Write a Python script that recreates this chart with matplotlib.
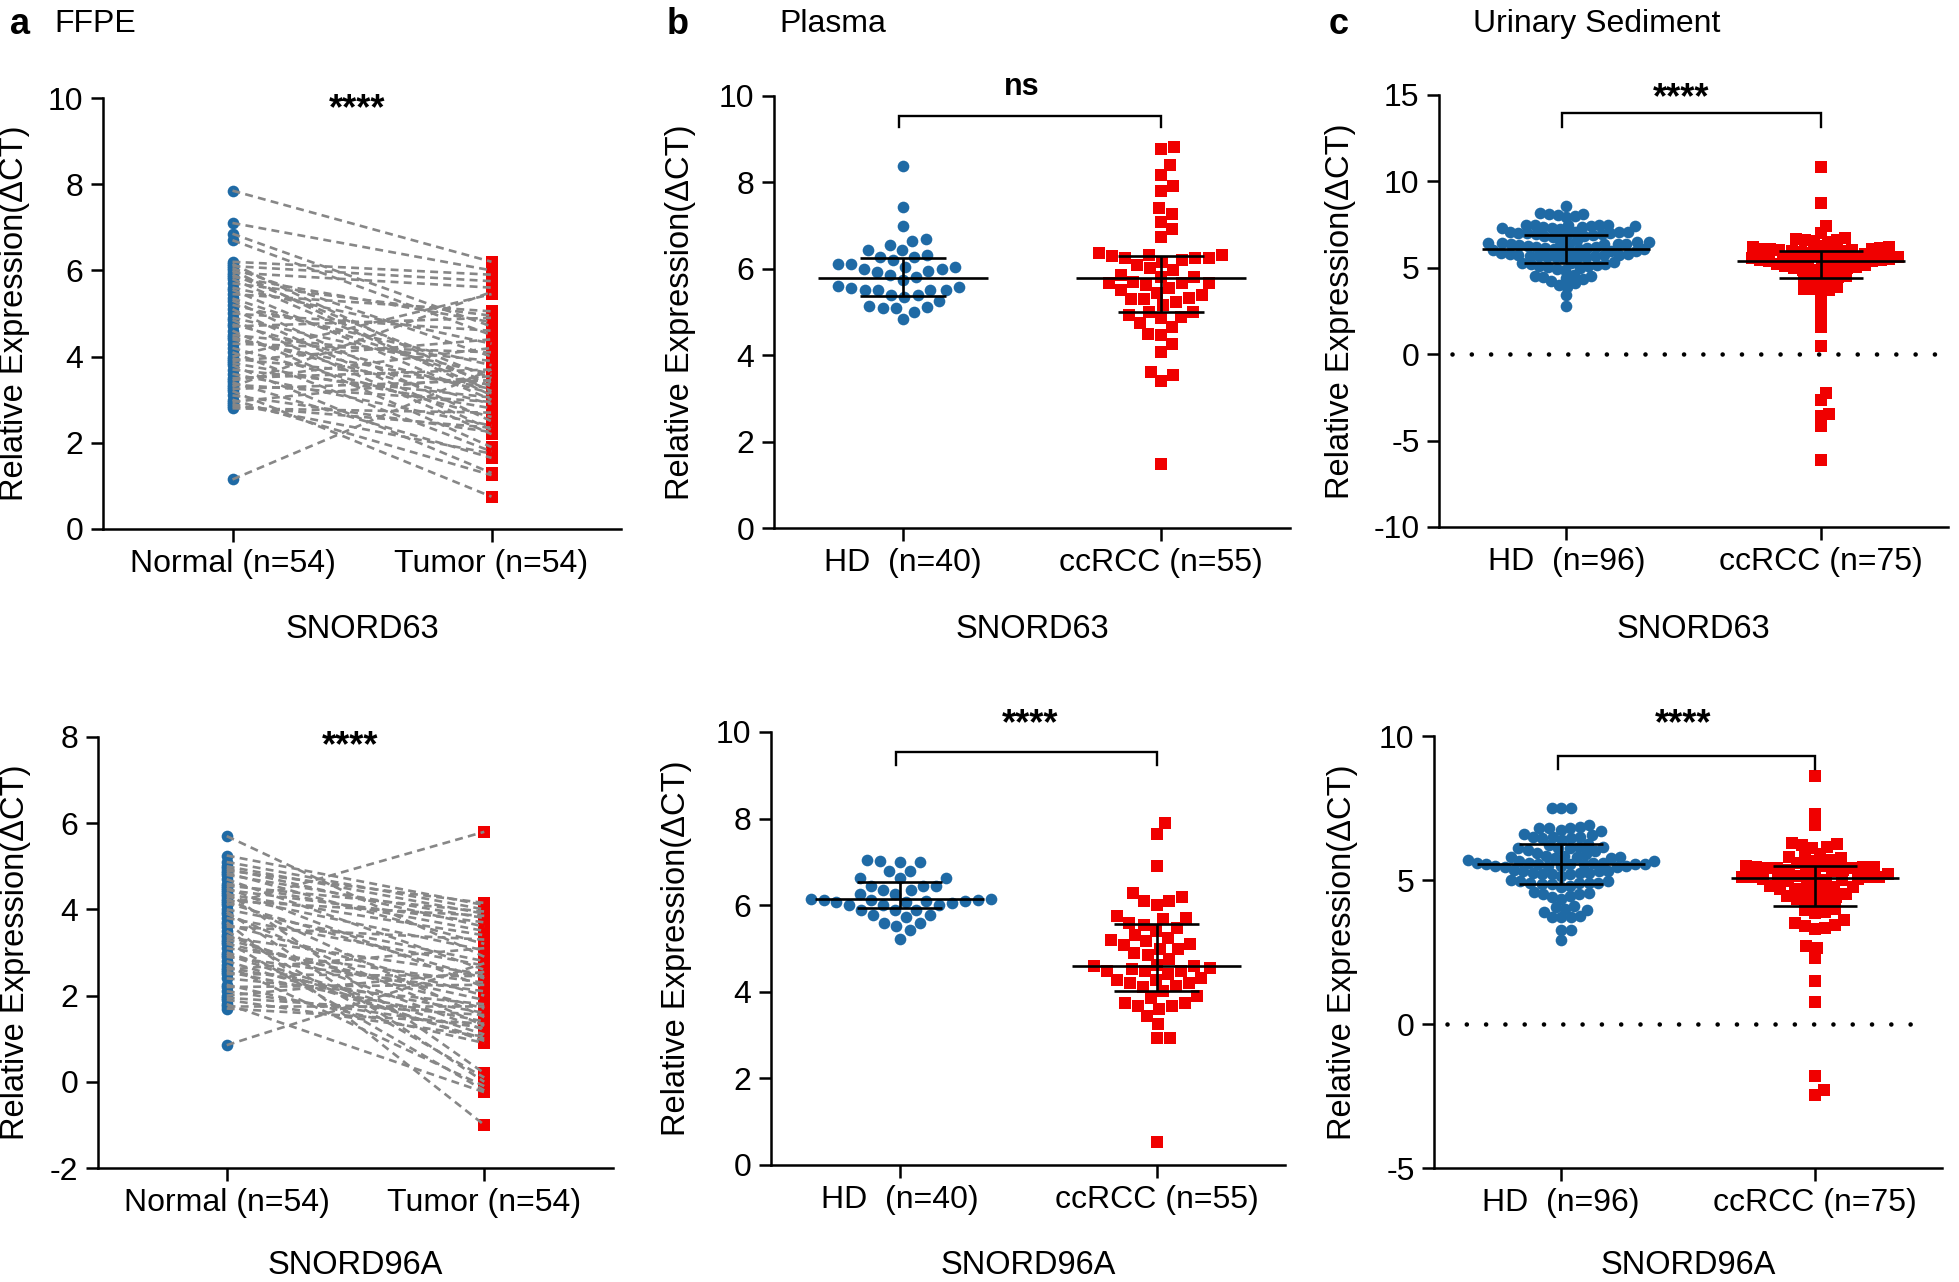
import numpy as np
import matplotlib
matplotlib.use("Agg")
import matplotlib.pyplot as plt

plt.rcParams['font.family'] = ['Liberation Sans', 'DejaVu Sans']
plt.rcParams['axes.unicode_minus'] = False

BLUE = '#1f6aa5'
RED = '#f00000'
GRAY = '#878787'

# ---- a: FFPE, paired normal / tumor ----
ffpe_labels = ['Normal (n=54)', 'Tumor (n=54)']
n63 = [7.85, 7.1, 6.85, 6.7, 6.2, 6.15, 6.1, 6.05, 6.0, 5.95,
       5.9, 5.85, 5.8, 5.7, 5.6, 5.55, 5.45, 5.35, 5.3, 5.2,
       5.1, 5.0, 4.9, 4.85, 4.75, 4.7, 4.6, 4.5, 4.45, 4.4,
       4.3, 4.2, 4.1, 4.0, 3.95, 3.9, 3.85, 3.8, 3.7, 3.6,
       3.5, 3.45, 3.4, 3.35, 3.3, 3.25, 3.2, 3.1, 3.0, 2.95,
       2.9, 2.85, 2.8, 1.15]
t63 = [6.2, 6.0, 4.7, 4.5, 5.9, 3.3, 5.75, 4.0, 3.1, 5.6,
       3.5, 4.8, 3.2, 4.95, 4.3, 3.0, 5.05, 3.4, 2.5, 3.8,
       2.3, 4.6, 3.6, 2.2, 3.15, 4.9, 1.9, 3.9, 2.9, 3.25,
       4.1, 2.6, 1.8, 5.45, 3.35, 4.4, 2.8, 1.3, 3.05, 2.4,
       3.7, 4.2, 1.65, 2.95, 5.5, 3.45, 0.75, 2.25, 1.25, 3.55,
       1.75, 2.35, 2.7, 3.7]
n96 = [5.7, 5.25, 5.1, 5.0, 4.95, 4.9, 4.85, 4.8, 4.7, 4.6,
       4.55, 4.5, 4.45, 4.4, 4.35, 4.3, 4.25, 4.2, 4.15, 4.1,
       4.0, 3.95, 3.9, 3.8, 3.7, 3.65, 3.6, 3.5, 3.4, 3.35,
       3.3, 3.25, 3.2, 3.1, 3.0, 2.95, 2.9, 2.8, 2.7, 2.65,
       2.6, 2.55, 2.5, 2.4, 2.25, 2.2, 2.1, 2.0, 1.95, 1.9,
       1.8, 1.75, 1.7, 0.85]
t96 = [2.9, 4.1, 4.0, 3.9, 3.6, 4.15, 3.2, 3.8, 2.6, 3.5,
       3.95, 2.2, 3.7, 0.2, 3.4, 3.05, 1.5, 3.85, 2.4, 5.8,
       2.8, 0.0, 1.3, 2.7, -1.0, 2.0, 3.3, 0.1, 1.2, 2.5,
       1.7, -0.2, 1.9, 2.3, 1.1, 0.95, 2.1, 1.0, -0.1, 1.6,
       3.1, 1.4, 2.45, 1.8, 0.9, 2.25, 1.25, 2.55, 1.55, 1.05,
       -0.24, 1.75, 1.35, 2.75]

# ---- b: plasma ----
plasma_labels = ['HD  (n=40)', 'ccRCC (n=55)']
pl63_hd = [8.38, 7.44, 7.0, 6.68, 6.65, 6.55, 6.44, 6.44, 6.33, 6.28,
           6.28, 6.2, 6.1, 6.12, 6.05, 6.05, 6.0, 6.0, 5.93, 5.95,
           5.82, 5.85, 5.74, 5.6, 5.55, 5.58, 5.5, 5.52, 5.5, 5.5,
           5.4, 5.35, 5.4, 5.25, 5.12, 5.1, 5.1, 5.15, 5.0, 4.83]
pl63_cc = [8.81, 8.77, 8.4, 8.17, 7.92, 7.79, 7.4, 7.28, 7.09, 6.91,
           6.73, 6.24, 6.24, 6.37, 6.32, 6.29, 6.16, 6.2, 6.24, 6.32,
           6.09, 6.01, 5.97, 5.86, 5.82, 5.82, 5.66, 5.66, 5.66, 5.63,
           5.55, 5.51, 5.44, 5.32, 5.3, 5.24, 5.3, 5.16, 5.01, 5.01,
           4.93, 4.89, 4.85, 4.66, 4.47, 4.49, 4.27, 4.08, 3.62, 3.54,
           3.41, 1.48, 5.7, 5.4, 4.75]
pl96_hd = [7.02, 7.0, 7.05, 7.0, 6.8, 6.8, 6.63, 6.63, 6.63, 6.45,
           6.45, 6.45, 6.36, 6.36, 6.25, 6.25, 6.15, 6.12, 6.1, 6.08,
           6.05, 6.14, 6.11, 6.07, 6.13, 6.09, 6.0, 6.0, 6.0, 5.9,
           5.9, 5.9, 5.78, 5.78, 5.72, 5.6, 5.6, 5.52, 5.42, 5.23]
pl96_cc = [7.9, 7.65, 6.9, 6.28, 6.2, 6.09, 6.09, 6.0, 5.75, 5.67,
           5.6, 5.48, 5.32, 5.25, 5.2, 5.17, 5.09, 4.99, 4.86, 4.75,
           4.59, 4.59, 4.55, 4.52, 4.48, 4.48, 4.48, 4.63, 4.32, 4.28,
           4.28, 4.2, 4.2, 4.13, 4.02, 3.86, 3.75, 3.75, 3.67, 3.67,
           3.6, 3.44, 3.25, 2.94, 2.94, 0.53, 5.7, 5.55, 5.4, 5.1,
           4.9, 4.4, 4.1, 3.9, 5.0]

# ---- c: urinary sediment ----
urine_labels = ['HD  (n=96)', 'ccRCC (n=75)']
us63_hd = [8.6,
           8.15, 8.1, 8.05, 8.0, 8.1, 7.95,
           7.5, 7.45, 7.4, 7.35, 7.45, 7.5, 7.3, 7.4, 7.35, 7.25, 7.45, 7.3,
           7.1, 7.05, 7.0, 6.95, 6.9, 7.0, 7.05, 6.85, 6.95, 7.1, 6.9, 6.8, 7.0, 6.85,
           6.5, 6.45, 6.4, 6.35, 6.4, 6.55, 6.3, 6.45, 6.6, 6.35, 6.5, 6.4,
           6.2, 6.15, 6.1, 6.05, 6.0, 6.15, 6.1, 6.2, 6.05, 6.0, 6.1, 6.25,
           5.8, 5.75, 5.7, 5.65, 5.6, 5.7, 5.75, 5.85, 5.65, 5.6, 5.7, 5.8, 5.55, 5.75, 5.9,
           5.3, 5.2, 5.15, 5.1, 5.05, 5.0, 4.95, 5.2, 5.1, 5.25, 4.9, 5.35,
           4.6, 4.5, 4.4, 4.55, 4.35, 4.45, 4.25,
           4.1, 4.0, 3.9,
           3.4, 2.8]
us63_cc = [10.85, 8.75, 7.4, 7.0,
           6.7, 6.6, 6.55, 6.65, 6.5, 6.6,
           6.2, 6.1, 6.15, 6.05, 6.0, 6.1, 6.2, 6.25, 6.05, 6.1,
           5.95, 5.9, 5.85, 5.8, 5.75, 5.9, 5.8,
           5.6, 5.55, 5.5, 5.45, 5.4, 5.35, 5.5, 5.45, 5.6, 5.4, 5.35, 5.5,
           5.55, 5.3, 5.45, 5.4,
           5.2, 5.15,
           5.1, 5.0, 4.95, 4.9, 5.05, 4.85, 5.0, 4.9, 4.8,
           4.5, 4.4, 4.35, 4.45, 4.3, 4.25,
           3.9, 3.8, 3.7, 3.6, 3.75,
           2.9, 2.2, 1.6, 0.45,
           -2.25, -2.65, -3.45, -3.6, -4.15, -6.1]
us96_hd = [7.5, 7.5, 7.5,
           6.85, 6.8, 6.8, 6.75, 6.8, 6.9, 6.7,
           6.55, 6.5, 6.45, 6.5, 6.6, 6.4, 6.5, 6.45,
           6.15, 6.1, 6.05, 6.1, 6.2, 6.0, 6.1, 6.15, 6.25,
           5.85, 5.8, 5.75, 5.8, 5.9, 5.7, 5.8, 5.85, 5.95, 5.75,
           5.6, 5.55, 5.5, 5.55, 5.6, 5.5, 5.55, 5.65, 5.45, 5.55, 5.6, 5.5,
           5.55, 5.45, 5.6, 5.5, 5.55, 5.65,
           5.3, 5.25, 5.2, 5.3, 5.25, 5.15, 5.3, 5.2, 5.35, 5.25, 5.2,
           4.95, 4.9, 4.85, 4.9, 5.0, 4.8, 4.9, 4.95, 4.85, 4.9, 4.75,
           4.55, 4.5, 4.45, 4.6, 4.4, 4.5, 4.35,
           4.1, 4.0, 3.95, 4.05, 3.9,
           3.7, 3.7, 3.7, 3.75,
           3.25, 3.25, 2.9]
us96_cc = [8.6, 7.3, 6.9,
           6.3, 6.2, 6.15, 6.25, 6.1,
           5.9, 5.8, 5.75, 5.85, 5.7, 5.6, 5.65,
           5.45, 5.4, 5.35, 5.5, 5.4, 5.45, 5.35, 5.5, 5.4, 5.3, 5.45, 5.4,
           5.1, 5.05, 5.0, 5.1, 5.05, 5.0, 5.15, 5.05, 5.1, 5.0, 4.95, 5.1,
           5.2, 5.25, 4.9,
           4.75, 4.7, 4.65, 4.8, 4.7, 4.6, 4.75, 4.5, 4.55, 4.45,
           4.35, 4.3, 4.25, 4.4, 4.2,
           3.95, 3.9, 3.85, 4.0, 3.6,
           3.45, 3.4, 3.35, 3.5, 3.3,
           2.7, 2.65, 2.3, 1.5, 0.75,
           -1.8, -2.3, -2.45]

# summary lines: centre, lower, upper
pl63_stats = [(5.79, 5.36, 6.24), (5.79, 5.0, 6.3)]
pl96_stats = [(6.14, 5.93, 6.53), (4.6, 4.02, 5.56)]
us63_stats = [(6.1, 5.3, 6.9), (5.4, 4.4, 5.95)]
us96_stats = [(5.56, 4.86, 6.24), (5.08, 4.1, 5.5)]

W, H = 1959, 1282
fig = plt.figure(figsize=(W / 100, H / 100), dpi=100)


def make_ax(box, ylim, yticks, ticklabels, xlabel, ylab_x, xlab_y):
    x0, x1, yt, yb = box
    ax = fig.add_axes([x0 / W, 1 - yb / H, (x1 - x0) / W, (yb - yt) / H])
    ax.set_xlim(-0.5, 1.5)
    ax.set_ylim(*ylim)
    ax.set_yticks(yticks)
    ax.set_xticks([0, 1])
    ax.set_xticklabels(ticklabels)
    for s in ['top', 'right']:
        ax.spines[s].set_visible(False)
    for s in ['left', 'bottom']:
        ax.spines[s].set_linewidth(1.8)
    ax.tick_params(axis='both', width=1.8, labelsize=23)
    ax.tick_params(axis='y', length=9, pad=5)
    ax.tick_params(axis='x', length=9.5, pad=5)
    ax.set_ylabel('Relative Expression(ΔCT)', fontsize=23.5)
    ax.yaxis.label.set_va('center')
    ax.yaxis.set_label_coords((ylab_x - x0) / (x1 - x0), 0.5)
    ax.set_xlabel(xlabel, fontsize=23.5)
    ax.xaxis.label.set_va('center')
    ax.xaxis.set_label_coords(0.5, -(xlab_y - yb) / (yb - yt))
    ax.patch.set_alpha(0)
    return ax


def swarm(vals, box, ylim, d):
    x0, x1, yt, yb = box
    xpx = (x1 - x0) / 2.0
    ypx = (yb - yt) / (ylim[1] - ylim[0])
    vals = np.asarray(vals, float)
    ys = vals * ypx
    xs = np.zeros(len(vals))
    done = []
    for i in np.argsort(vals):
        cands = [0.0]
        for j in done:
            dy = ys[i] - ys[j]
            if abs(dy) < d:
                dx = np.sqrt(d * d - dy * dy)
                cands += [xs[j] + dx, xs[j] - dx]
        for c in sorted(cands, key=abs):
            if all((c - xs[j]) ** 2 + (ys[i] - ys[j]) ** 2 >= d * d - 1e-6 for j in done):
                xs[i] = c
                break
        done.append(i)
    return xs / xpx


def stats_lines(ax, x, st):
    c, lo, hi = st
    kw = dict(color='black', lw=1.9, zorder=5, solid_capstyle='butt')
    ax.plot([x - 0.33, x + 0.33], [c, c], **kw)
    ax.plot([x - 0.165, x + 0.165], [lo, lo], **kw)
    ax.plot([x - 0.165, x + 0.165], [hi, hi], **kw)
    ax.plot([x, x], [lo, hi], **kw)


def bracket(ax, y, ydrop, xl, xr):
    ax.plot([xl, xl, xr, xr], [ydrop, y, y, ydrop], color='black', lw=1.7,
            clip_on=False, solid_joinstyle='miter')


def zero_dots(ax):
    ax.plot([-0.45, 1.45], [0, 0], color='black', lw=3.3,
            linestyle=(0, (0.01, 4.2)), dash_capstyle='round', zorder=1)


def paired(ax, normal, tumor):
    ax.plot([0] * len(normal), normal, 'o', color=BLUE, ms=8.4, mew=0, zorder=2)
    ax.plot([1] * len(tumor), tumor, 's', color=RED, ms=8.0, mew=0, zorder=2)
    ax.plot(np.array([[0] * len(normal), [1] * len(tumor)]),
            np.array([normal, tumor]), color=GRAY, lw=1.9,
            linestyle=(0, (3.0, 2.0)), zorder=3)


def dots(ax, box, ylim, hd, cc, st, d_hd, d_cc):
    xh = swarm(hd, box, ylim, d_hd)
    xc = swarm(cc, box, ylim, d_cc)
    ax.plot(xh, hd, 'o', color=BLUE, ms=8.4, mew=0, zorder=2, clip_on=False)
    ax.plot(1 + xc, cc, 's', color=RED, ms=8.0, mew=0, zorder=2, clip_on=False)
    stats_lines(ax, 0, st[0])
    stats_lines(ax, 1, st[1])


def star(ax, x, y, s, size=26):
    ax.text(x, y, s, ha='center', va='baseline', fontsize=size,
            fontweight='bold', clip_on=False)


# top row
boxA1 = (103, 621, 98, 529)
axA1 = make_ax(boxA1, (0, 10), [0, 2, 4, 6, 8, 10], ffpe_labels, 'SNORD63', 15, 630)
paired(axA1, n63, t63)
star(axA1, 0.48, 9.5, '****')

boxB1 = (774, 1290, 96, 528)
axB1 = make_ax(boxB1, (0, 10), [0, 2, 4, 6, 8, 10], plasma_labels, 'SNORD63', 681, 630)
dots(axB1, boxB1, (0, 10), pl63_hd, pl63_cc, pl63_stats, 13.5, 13.5)
bracket(axB1, 9.54, 9.28, -0.015, 1.0)
star(axB1, 0.46, 10.02, 'ns', 22)

boxC1 = (1439, 1948, 95, 527)
axC1 = make_ax(boxC1, (-10, 15), [-10, -5, 0, 5, 10, 15], urine_labels, 'SNORD63', 1340, 630)
zero_dots(axC1)
dots(axC1, boxC1, (-10, 15), us63_hd, us63_cc, us63_stats, 8.7, 8.7)
bracket(axC1, 13.96, 13.15, -0.015, 1.0)
star(axC1, 0.45, 14.25, '****')

# bottom row
boxA2 = (98, 613, 737, 1168)
axA2 = make_ax(boxA2, (-2, 8), [-2, 0, 2, 4, 6, 8], ffpe_labels, 'SNORD96A', 16, 1265)
paired(axA2, n96, t96)
star(axA2, 0.48, 7.55, '****')

boxB2 = (771, 1285, 732, 1165)
axB2 = make_ax(boxB2, (0, 10), [0, 2, 4, 6, 8, 10], plasma_labels, 'SNORD96A', 677, 1265)
dots(axB2, boxB2, (0, 10), pl96_hd, pl96_cc, pl96_stats, 13.0, 13.5)
bracket(axB2, 9.54, 9.24, -0.015, 1.0)
star(axB2, 0.51, 9.95, '****')

boxC2 = (1434, 1942, 736, 1168)
axC2 = make_ax(boxC2, (-5, 10), [-5, 0, 5, 10], urine_labels, 'SNORD96A', 1342, 1265)
zero_dots(axC2)
dots(axC2, boxC2, (-5, 10), us96_hd, us96_cc, us96_stats, 9.5, 10.2)
bracket(axC2, 9.3, 8.85, -0.012, 1.0)
star(axC2, 0.48, 10.08, '****')

# panel letters and titles
for px, letter, tx, title in [(10, 'a', 54, 'FFPE'), (667, 'b', 779, 'Plasma'),
                              (1329, 'c', 1473, 'Urinary Sediment')]:
    fig.text(px / W, 1 - 24 / H, letter, fontsize=26, fontweight='bold',
             ha='left', va='center')
    fig.text(tx / W, 1 - 24 / H, title, fontsize=23, ha='left', va='center')

fig.savefig('out.png', dpi=100)
